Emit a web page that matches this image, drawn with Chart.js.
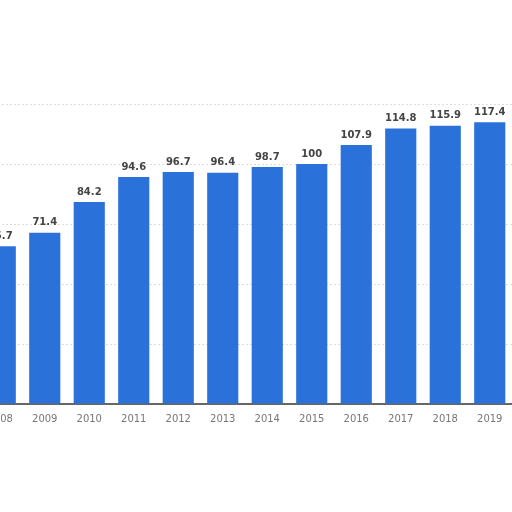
<!DOCTYPE html>
<html>
<head>
<meta charset="utf-8">
<script src="https://cdn.jsdelivr.net/npm/chart.js@4"></script>
<style>
  html, body { margin: 0; padding: 0; background: #fff; overflow: hidden; }
  #wrap { position: absolute; left: -22px; top: 0; width: 534px; height: 512px; }
</style>
</head>
<body>
<div id="wrap"><canvas id="barChart"></canvas></div>
<script>
const years = ["2008", "2009", "2010", "2011", "2012", "2013", "2014", "2015", "2016", "2017", "2018", "2019"];
const values = [65.7, 71.4, 84.2, 94.6, 96.7, 96.4, 98.7, 100, 107.9, 114.8, 115.9, 117.4];

// value labels above each bar
const barLabels = {
  id: "barLabels",
  afterDatasetsDraw(chart) {
    const ctx = chart.ctx;
    const meta = chart.getDatasetMeta(0);
    ctx.save();
    ctx.font = "bold 10px 'DejaVu Sans'";
    ctx.fillStyle = "#444";
    ctx.textAlign = "center";
    ctx.textBaseline = "bottom";
    meta.data.forEach((bar, i) => {
      ctx.fillText(String(values[i]), bar.x, bar.y - 5);
    });
    ctx.restore();
  },
};

const ctx = document.getElementById("barChart").getContext("2d");
new Chart(ctx, {
  type: "bar",
  data: {
    labels: years,
    datasets: [
      {
        data: values,
        backgroundColor: "#2a72d9",
        barPercentage: 0.7,
        categoryPercentage: 1,
      },
    ],
  },
  options: {
    responsive: true,
    maintainAspectRatio: false,
    animation: false,
    layout: { padding: { top: 104, bottom: 86, left: 0, right: 0 } },
    scales: {
      x: {
        grid: { display: false },
        border: { color: "#666", width: 2 },
        ticks: { color: "#777", font: { family: "DejaVu Sans", size: 10 }, padding: 1 },
      },
      y: {
        min: 0,
        max: 125,
        ticks: { display: false, stepSize: 25 },
        grid: { color: "#ddd", drawTicks: false },
        border: { display: false, dash: [2, 2] },
      },
    },
    plugins: {
      legend: { display: false },
      tooltip: { enabled: false },
    },
  },
  plugins: [barLabels],
});
</script>
</body>
</html>
